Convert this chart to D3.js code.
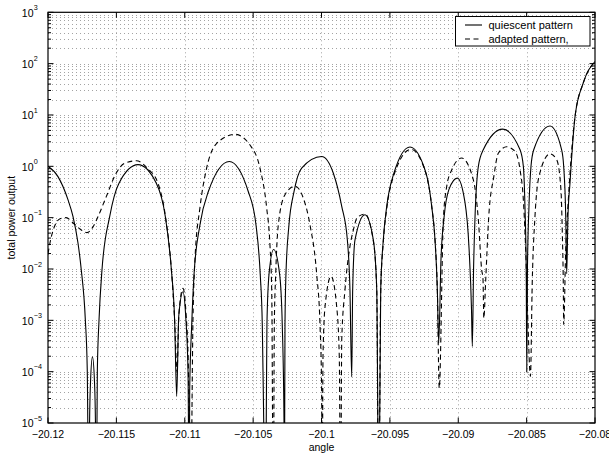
<!DOCTYPE html>
<html>
<head>
<meta charset="utf-8">
<script src="https://cdn.jsdelivr.net/npm/d3@7"></script>
<style>
  body { margin: 0; background: #fff; }
  text { font-family: "Liberation Sans", Arial, Helvetica, sans-serif; fill: #000; }
</style>
</head>
<body>
<svg id="chart" width="609" height="457"></svg>
<script>
// Axis ticks
const angleTicks = [-20.12, -20.115, -20.11, -20.105, -20.1, -20.095, -20.09, -20.085, -20.08];
const angleTickLabels = ["\u221220.12", "\u221220.115", "\u221220.11", "\u221220.105", "\u221220.1",
                         "\u221220.095", "\u221220.09", "\u221220.085", "\u221220.08"];
const powerTickExponents = [-5, -4, -3, -2, -1, 0, 1, 2, 3];

const legendLabels = ["quiescent pattern", "adapted pattern,"];
const axisLabels = { x: "angle", y: "total power output" };

// Quiescent pattern (solid)
const quiescentAngle = [
  -20.12, -20.11927, -20.11854, -20.11817, -20.11781, -20.11757, -20.11727, -20.11713, -20.11701,
  -20.11696, -20.11689, -20.11675, -20.11660, -20.11653, -20.11648,
  -20.11639, -20.11627, -20.11605, -20.11549, -20.11481, -20.11342, -20.11208, -20.11142, -20.11098,
  -20.11074, -20.11059, -20.11044, -20.11013, -20.10993, -20.10976, -20.10967,
  -20.10964, -20.10949, -20.10932, -20.10889, -20.10828, -20.10674, -20.10535, -20.10479, -20.10448,
  -20.10433, -20.10423, -20.10412, -20.10404, -20.10399, -20.10384, -20.10350, -20.10306, -20.10287,
  -20.10274, -20.10272, -20.10267, -20.10260, -20.10238, -20.10201, -20.10145, -20.09999, -20.09914,
  -20.09852, -20.09811, -20.09792, -20.09779, -20.09772, -20.09755, -20.09682, -20.09621, -20.09596,
  -20.09581, -20.09567, -20.09548, -20.09523, -20.09470, -20.09353, -20.09236, -20.09194, -20.09170,
  -20.09153, -20.09143, -20.09126, -20.09104, -20.09068, -20.09007, -20.08951, -20.08921, -20.08903,
  -20.08897, -20.08888, -20.08878, -20.08853, -20.08817, -20.08675, -20.08548, -20.08524, -20.08512,
  -20.08503, -20.08499, -20.08494, -20.08483, -20.08468, -20.08448, -20.08329, -20.08244, -20.08229,
  -20.08214, -20.08207, -20.08198, -20.08183, -20.08146, -20.08086, -20.08
];
const quiescentPower = [
  1.0, 0.63, 0.224, 0.105, 0.0324, 0.0098, 1.02e-3, 1.1e-4, 1e-7,
  1e-5, 6.3e-5, 1.95e-4, 6.3e-5, 1e-5, 1e-7,
  1.1e-4, 1.0e-3, 9.8e-3, 0.105, 0.47, 1.08, 0.47, 0.105, 9.8e-3,
  1.0e-3, 3.3e-5, 1.2e-3, 3.6e-3, 1.2e-3, 1e-4, 1e-7,
  4.2e-5, 8.3e-4, 7.8e-3, 0.072, 0.32, 1.24, 0.32, 0.072, 7.8e-3,
  8.3e-4, 1.3e-5, 1e-7, 1e-5, 8.3e-4, 7.8e-3, 0.024, 7.8e-3, 8.3e-4,
  1e-5, 1e-7, 8.3e-4, 7.8e-3, 0.072, 0.32, 0.92, 1.55, 0.74,
  0.166, 0.037, 4.0e-3, 7.9e-5, 4.0e-3, 0.037, 0.114, 0.037, 4.0e-3,
  1e-7, 4.0e-3, 0.037, 0.166, 0.74, 2.37, 0.74, 0.166, 0.037,
  4.0e-3, 3.6e-4, 0.016, 0.1, 0.355, 0.59, 0.2, 0.025, 1.6e-3,
  3.1e-4, 0.01, 0.091, 1.0, 2.1, 5.3, 2.1, 1.0, 0.16,
  0.01, 9.8e-5, 0.01, 0.16, 1.0, 2.1, 6.1, 2.1, 1.0,
  0.105, 8.1e-3, 0.1, 0.47, 9.3, 42, 110
];

// Adapted pattern (dashed)
const adaptedAngle = [
  -20.12, -20.11978, -20.11949, -20.11912, -20.11868, -20.11810, -20.11766, -20.11715, -20.11671,
  -20.11634, -20.11574, -20.11501, -20.11439, -20.11354, -20.11269, -20.11196, -20.11141, -20.11098,
  -20.11074, -20.11057, -20.11042, -20.11013, -20.10991, -20.10973, -20.10958,
  -20.10940, -20.10925, -20.10889, -20.10840, -20.10766, -20.10633, -20.10523, -20.10450, -20.10401,
  -20.10377, -20.10364, -20.10352, -20.10345, -20.10335, -20.10316, -20.10267, -20.10194, -20.10133,
  -20.10084, -20.10035, -20.10011, -20.09999, -20.09995, -20.09989, -20.09974, -20.09930, -20.09889,
  -20.09870, -20.09860, -20.09852, -20.09828, -20.09792, -20.09767, -20.09740, -20.09682, -20.09621,
  -20.09596, -20.09582, -20.09567, -20.09548, -20.09523, -20.09470, -20.09346, -20.09236, -20.09194,
  -20.09170, -20.09153, -20.09139, -20.09109, -20.09084, -20.09048, -20.08975, -20.08890, -20.08853,
  -20.08829, -20.08819, -20.08813, -20.08799, -20.08777, -20.08740, -20.08707, -20.08646, -20.08585,
  -20.08548, -20.08524, -20.08507, -20.08492, -20.08472, -20.08459, -20.08439, -20.08410, -20.08329,
  -20.08280, -20.08249, -20.08239, -20.08232, -20.08229, -20.08214, -20.08195, -20.08170, -20.08146,
  -20.08086, -20.08
];
const adaptedPower = [
  0.020, 0.040, 0.071, 0.095, 0.10, 0.076, 0.060, 0.051, 0.066,
  0.105, 0.257, 0.74, 1.15, 1.28, 0.89, 0.47, 0.105, 0.01,
  1e-3, 1e-4, 1.4e-3, 4.2e-3, 1.4e-3, 1e-4, 1e-7,
  1e-3, 0.016, 0.155, 0.92, 2.8, 4.2, 2.6, 0.92, 0.155,
  0.0295, 3.6e-3, 1e-7, 8.3e-4, 7.8e-3, 0.072, 0.28, 0.41, 0.24,
  0.072, 7.8e-3, 8.3e-4, 4.2e-5, 1e-7, 2.0e-4, 1.86e-3, 7.2e-3, 1.86e-3,
  2.0e-4, 1e-7, 4.2e-4, 4.0e-3, 0.0275, 0.0575, 0.1, 0.117, 0.035,
  4.0e-3, 1e-7, 3.5e-3, 0.034, 0.15, 0.68, 2.14, 0.72, 0.166,
  0.037, 4.0e-3, 4.8e-5, 0.091, 0.41, 0.85, 1.45, 0.55, 0.091,
  9.8e-3, 6.3e-3, 1.1e-3, 6.3e-3, 0.105, 0.63, 1.8, 2.4, 1.95,
  0.85, 0.224, 0.024, 1.2e-3, 8.1e-5, 5.4e-3, 0.105, 0.63, 1.75,
  1.35, 0.35, 0.05, 5.4e-3, 8.3e-4, 0.024, 0.224, 2.1, 9.3,
  42, 110
];

// Layout
const W = 609, H = 457;
const plot = { left: 48, right: 595, top: 12.3, bottom: 423 };

const svg = d3.select("#chart");

const x = d3.scaleLinear().domain([-20.12, -20.08]).range([plot.left, plot.right]);
const y = d3.scaleLog().domain([1e-5, 1e3]).range([plot.bottom, plot.top]);

svg.append("rect").attr("x", 0).attr("y", 0).attr("width", W).attr("height", H).attr("fill", "#fff");

svg.append("defs").append("clipPath").attr("id", "plot-clip")
  .append("rect")
  .attr("x", plot.left).attr("y", plot.top)
  .attr("width", plot.right - plot.left).attr("height", plot.bottom - plot.top);

// Dotted grid: every decade subdivision horizontally, major angle ticks vertically
const yGridValues = y.ticks().filter(v => v > 1e-5 * 1.0001 && v < 1e3 * 0.9999);
const grid = svg.append("g").attr("stroke", "#000").attr("stroke-width", 0.8)
  .attr("stroke-dasharray", "1,3").attr("opacity", 0.45);
grid.selectAll("line.h").data(yGridValues).join("line")
  .attr("class", "h")
  .attr("x1", plot.left).attr("x2", plot.right)
  .attr("y1", d => Math.round(y(d)) + 0.5).attr("y2", d => Math.round(y(d)) + 0.5);
grid.selectAll("line.v").data(angleTicks.slice(1, -1)).join("line")
  .attr("class", "v")
  .attr("x1", d => Math.round(x(d)) + 0.5).attr("x2", d => Math.round(x(d)) + 0.5)
  .attr("y1", plot.top).attr("y2", plot.bottom);

// Curves
const toPoints = (xs, ys) => xs.map((a, i) => [a, ys[i]]);
const line = d3.line()
  .x(d => x(d[0]))
  .y(d => y(d[1]))
  .curve(d3.curveMonotoneX);

const curves = svg.append("g").attr("clip-path", "url(#plot-clip)");
curves.append("path")
  .datum(toPoints(quiescentAngle, quiescentPower))
  .attr("d", line)
  .attr("fill", "none").attr("stroke", "#000").attr("stroke-width", 1.1);
curves.append("path")
  .datum(toPoints(adaptedAngle, adaptedPower))
  .attr("d", line)
  .attr("fill", "none").attr("stroke", "#000").attr("stroke-width", 1.1)
  .attr("stroke-dasharray", "5,3.5");

// Frame
svg.append("rect")
  .attr("x", plot.left).attr("y", plot.top)
  .attr("width", plot.right - plot.left).attr("height", plot.bottom - plot.top)
  .attr("fill", "none").attr("stroke", "#000").attr("stroke-width", 1.2);

// Inward ticks
const ticks = svg.append("g").attr("stroke", "#000").attr("stroke-width", 1);
const majorLen = 5.5, minorLen = 3;
const yMajor = powerTickExponents.map(e => Math.pow(10, e));
const yMinor = y.ticks().filter(v => Math.abs(Math.log10(v) - Math.round(Math.log10(v))) > 1e-6);
[[yMajor, majorLen], [yMinor, minorLen]].forEach(([vals, len]) => {
  ticks.selectAll(null).data(vals).join("line")
    .attr("x1", plot.left).attr("x2", plot.left + len)
    .attr("y1", d => y(d)).attr("y2", d => y(d));
  ticks.selectAll(null).data(vals).join("line")
    .attr("x1", plot.right).attr("x2", plot.right - len)
    .attr("y1", d => y(d)).attr("y2", d => y(d));
});
ticks.selectAll(null).data(angleTicks).join("line")
  .attr("x1", d => x(d)).attr("x2", d => x(d))
  .attr("y1", plot.bottom).attr("y2", plot.bottom - majorLen);
ticks.selectAll(null).data(angleTicks).join("line")
  .attr("x1", d => x(d)).attr("x2", d => x(d))
  .attr("y1", plot.top).attr("y2", plot.top + majorLen);

// Tick labels
svg.append("g").selectAll("text").data(angleTicks).join("text")
  .attr("x", d => x(d)).attr("y", 437.5)
  .attr("text-anchor", "middle").attr("font-size", 10.5)
  .text((d, i) => angleTickLabels[i]);

const yLab = svg.append("g").selectAll("g").data(powerTickExponents).join("g")
  .attr("transform", e => `translate(0,${y(Math.pow(10, e))})`);
yLab.append("text").attr("x", 33.5).attr("y", 4.3)
  .attr("text-anchor", "end").attr("font-size", 10.5).text("10");
yLab.append("text").attr("x", 33.8).attr("y", -2.3)
  .attr("text-anchor", "start").attr("font-size", 7.2)
  .text(e => (e < 0 ? "\u2212" : "") + Math.abs(e));

// Axis titles
svg.append("text").attr("x", (plot.left + plot.right) / 2).attr("y", 450.5)
  .attr("text-anchor", "middle").attr("font-size", 10.5).text(axisLabels.x);
svg.append("text")
  .attr("transform", `translate(14.5,${(plot.top + plot.bottom) / 2}) rotate(-90)`)
  .attr("text-anchor", "middle").attr("font-size", 10.5).text(axisLabels.y);

// Legend
const legend = svg.append("g");
legend.append("rect").attr("x", 455.5).attr("y", 16.5).attr("width", 134.5).attr("height", 29.5)
  .attr("fill", "#fff").attr("stroke", "#000").attr("stroke-width", 1);
const legendRows = legend.selectAll("g").data(legendLabels).join("g")
  .attr("transform", (d, i) => `translate(0,${25 + i * 14})`);
legendRows.append("line").attr("x1", 465).attr("x2", 482).attr("y1", 0).attr("y2", 0)
  .attr("stroke", "#000").attr("stroke-width", 1.1)
  .attr("stroke-dasharray", (d, i) => i === 0 ? null : "5,3.5");
legendRows.append("text").attr("x", 488.5).attr("y", 4)
  .attr("font-size", 11).text(d => d);
</script>
</body>
</html>
